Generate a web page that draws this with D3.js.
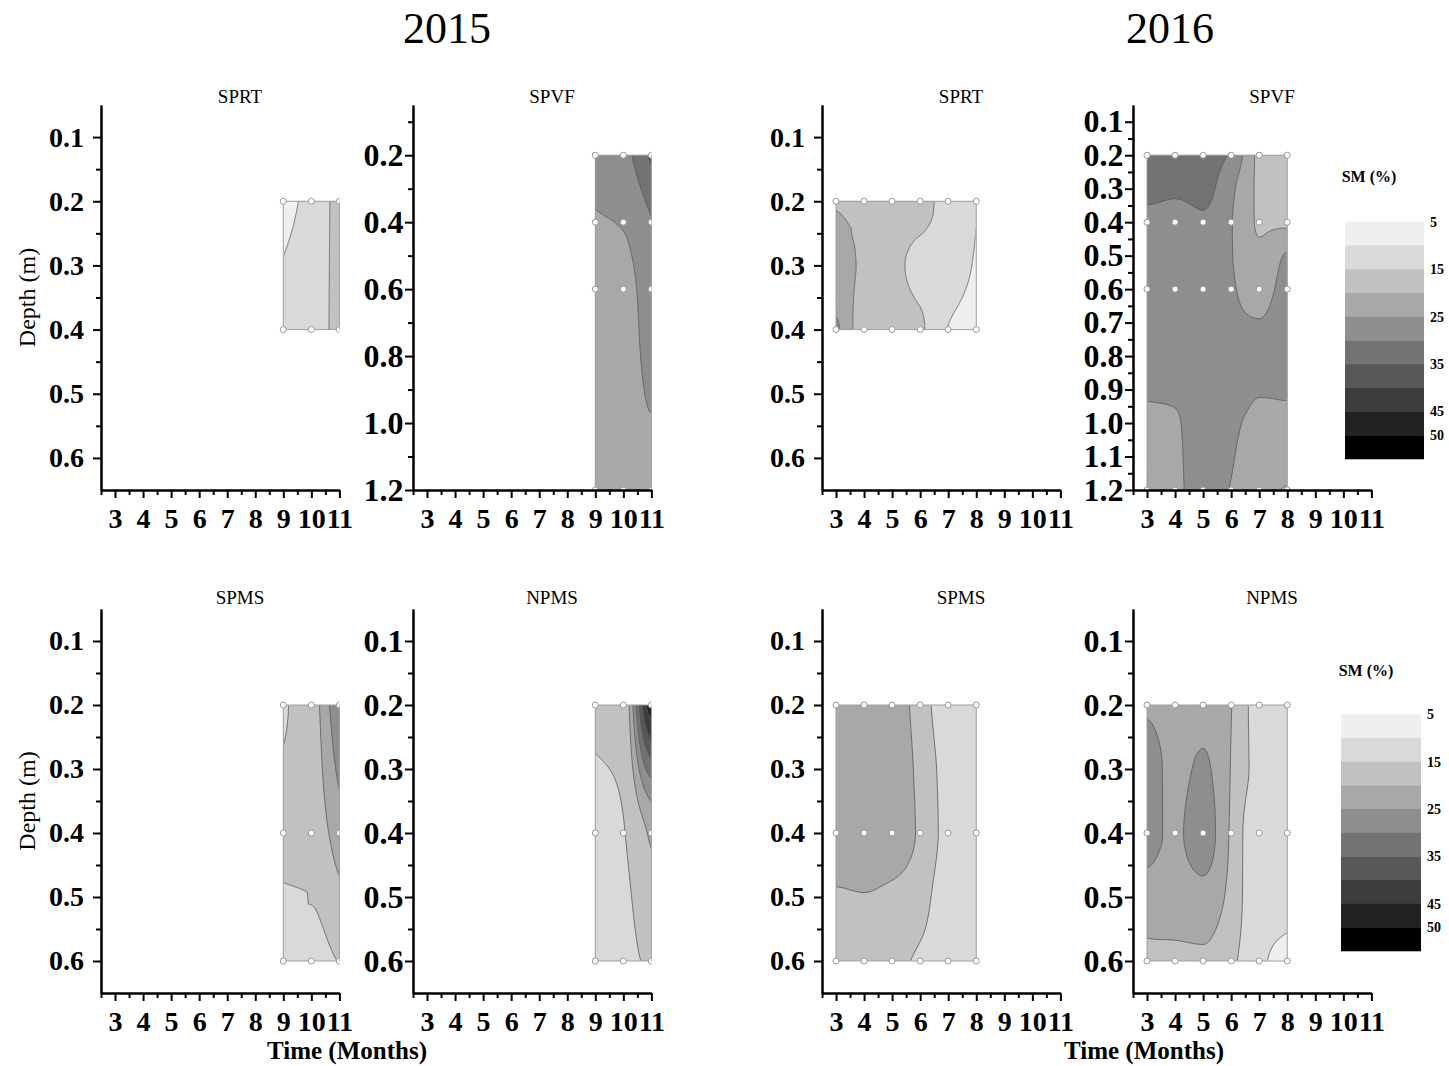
<!DOCTYPE html>
<html>
<head>
<meta charset="utf-8">
<script src="https://cdn.jsdelivr.net/npm/d3@7"></script>
<style>
  body { margin: 0; background: #fff; }
  svg { display: block; }
</style>
</head>
<body>
<svg id="chart" width="1449" height="1066"></svg>
<script>
// ---- sampling months ----
const months2015 = [9, 10, 11];
const months2016 = [3, 4, 5, 6, 7, 8];

// ---- depths (m) of the moisture grids and of the sampling points ----
const depthsTwoRows = [0.2, 0.4];
const depthsThreeRows = [0.2, 0.4, 0.6];
const depthsDeep2015 = [0.2, 0.4, 0.6, 0.8, 1.0, 1.2];
const depthsShallow2016 = [0.2, 0.3, 0.4];
const depthsMid2016 = [0.2, 0.3, 0.4, 0.5, 0.6];
const depthsDeep2016 = [0.2, 0.3, 0.4, 0.5, 0.6, 0.7, 0.8, 0.9, 1.0, 1.1, 1.2];
const probeDepthsDeep = [0.2, 0.4, 0.6, 1.2];

// ---- soil moisture SM (%) : one row per depth, one column per month ----
const smSPRT2015 = [
  [8.5, 11.5, 17],
  [12, 12.5, 17]
];
const smSPVF2015 = [
  [27, 28.5, 36],
  [24.6, 25.3, 29.7],
  [23, 23.5, 27.5],
  [23, 23, 26],
  [22.5, 22.5, 24.8],
  [22, 22, 23]
];
const smSPMS2015 = [
  [14.5, 17.5, 30],
  [16.5, 17, 22.5],
  [12, 12.8, 15.2]
];
const smNPMS2015 = [
  [16.5, 16.5, 48],
  [13, 14.8, 21],
  [12, 13.5, 16]
];
const smSPRT2016 = [
  [19.5, 19, 18, 16.8, 13, 10.3],
  [23, 19, 16.5, 13.5, 12.5, 9.5],
  [25.5, 17, 17, 15.6, 9.8, 7]
];
const smSPVF2016 = [
  [33, 33.5, 33, 29.2, 19, 17],
  [31.5, 31, 31.5, 26, 19.3, 18],
  [28.5, 28, 29.2, 25.2, 19.6, 19.3],
  [27.5, 27.5, 27.5, 25.2, 20.8, 25.3],
  [27.5, 27.5, 27.5, 25.5, 23, 26.5],
  [27.5, 27.5, 27.5, 26, 25.2, 27],
  [27, 27.5, 27.5, 27.5, 26.5, 27],
  [25.6, 25.8, 27.5, 27.5, 25.4, 25.5],
  [24, 24.6, 27, 26, 23.5, 24],
  [23.5, 24.4, 26.5, 25.3, 22.5, 22.5],
  [23.2, 24.4, 26, 24.85, 21.5, 19.5]
];
const smSPMS2016 = [
  [23, 23, 22, 18.15, 11, 11],
  [23.5, 23.5, 22.5, 18.9, 12.9, 11.5],
  [22.5, 23, 22.5, 19.3, 13.2, 11.5],
  [19.6, 19.8, 19, 17, 12, 11.5],
  [18, 17.5, 16.5, 14.1, 12, 11]
];
const smNPMS2016 = [
  [24.7, 23, 23, 20.1, 13, 13],
  [27, 23.5, 25.8, 19.8, 13.5, 13],
  [26, 24.3, 27.5, 19.3, 11, 12.5],
  [23.7, 22.5, 23.3, 18.5, 11, 11.5],
  [17.6, 18.65, 18.84, 16, 10.8, 8.5]
];

// ---- contour levels, fills and tick values ----
const smLevels = [5, 10, 15, 20, 25, 30, 35, 40, 45, 50];
const smFills = ['#efefef', '#d9d9d9', '#c1c1c1', '#a8a8a8', '#8e8e8e',
                 '#737373', '#585858', '#3d3d3d', '#222222', '#000000'];
const legendTicks = [5, 15, 25, 35, 45, 50];
const monthTicks = [3, 4, 5, 6, 7, 8, 9, 10, 11];
const monthMinorTicks = [2.5, 3.5, 4.5, 5.5, 6.5, 7.5, 8.5, 9.5, 10.5];
const depthTicksShallow = [0.1, 0.2, 0.3, 0.4, 0.5, 0.6];
const depthMinorShallow = [0.15, 0.25, 0.35, 0.45, 0.55];
const depthTicksEven = [0.2, 0.4, 0.6, 0.8, 1.0, 1.2];
const depthMinorEven = [0.1, 0.3, 0.5, 0.7, 0.9, 1.1];
const depthTicksAll = [0.1, 0.2, 0.3, 0.4, 0.5, 0.6, 0.7, 0.8, 0.9, 1.0, 1.1, 1.2];
const depthMinorAll = [0.15, 0.25, 0.35, 0.45, 0.55, 0.65, 0.75, 0.85, 0.95, 1.05, 1.15];

const panels = [
  { title: 'SPRT', row: 0, col: 0, months: months2015, depths: depthsTwoRows, sm: smSPRT2015, probes: depthsTwoRows, maxDepth: 0.65, ticks: depthTicksShallow, minor: depthMinorShallow },
  { title: 'SPVF', row: 0, col: 1, months: months2015, depths: depthsDeep2015, sm: smSPVF2015, probes: probeDepthsDeep, maxDepth: 1.2, ticks: depthTicksEven, minor: depthMinorEven },
  { title: 'SPRT', row: 0, col: 2, months: months2016, depths: depthsShallow2016, sm: smSPRT2016, probes: depthsTwoRows, maxDepth: 0.65, ticks: depthTicksShallow, minor: depthMinorShallow },
  { title: 'SPVF', row: 0, col: 3, months: months2016, depths: depthsDeep2016, sm: smSPVF2016, probes: probeDepthsDeep, maxDepth: 1.2, ticks: depthTicksAll, minor: depthMinorAll },
  { title: 'SPMS', row: 1, col: 0, months: months2015, depths: depthsThreeRows, sm: smSPMS2015, probes: depthsThreeRows, maxDepth: 0.65, ticks: depthTicksShallow, minor: depthMinorShallow },
  { title: 'NPMS', row: 1, col: 1, months: months2015, depths: depthsThreeRows, sm: smNPMS2015, probes: depthsThreeRows, maxDepth: 0.65, ticks: depthTicksShallow, minor: depthMinorShallow },
  { title: 'SPMS', row: 1, col: 2, months: months2016, depths: depthsMid2016, sm: smSPMS2016, probes: depthsThreeRows, maxDepth: 0.65, ticks: depthTicksShallow, minor: depthMinorShallow },
  { title: 'NPMS', row: 1, col: 3, months: months2016, depths: depthsMid2016, sm: smNPMS2016, probes: depthsThreeRows, maxDepth: 0.65, ticks: depthTicksShallow, minor: depthMinorShallow }
];

// ---- layout ----
const FONT = '"Liberation Serif", "Times New Roman", serif';
const axisLeft = [101, 413, 822, 1133];
const rowTop = [105, 609];
const rowBottom = [490, 993];
const axisWidth = 238.4;
const titleBaseline = [103, 604];

const svg = d3.select('#chart');
const defs = svg.append('defs');

// monotone cubic interpolation through (xs, ys)
function monotone(xs, ys) {
  const n = xs.length;
  if (n === 1) return () => ys[0];
  const h = [], d = [];
  for (let i = 0; i < n - 1; i++) {
    h[i] = xs[i + 1] - xs[i];
    d[i] = (ys[i + 1] - ys[i]) / h[i];
  }
  const m = new Array(n);
  m[0] = d[0];
  m[n - 1] = d[n - 2];
  for (let i = 1; i < n - 1; i++) {
    if (d[i - 1] * d[i] <= 0) m[i] = 0;
    else {
      const w1 = 2 * h[i] + h[i - 1], w2 = h[i] + 2 * h[i - 1];
      m[i] = (w1 + w2) / (w1 / d[i - 1] + w2 / d[i]);
    }
  }
  if (n > 2) {
    if (d[0] * m[1] <= 0) m[0] = 0;
    if (d[n - 2] * m[n - 2] <= 0) m[n - 1] = 0;
  }
  return x => {
    let i = 0;
    while (i < n - 2 && x > xs[i + 1]) i++;
    const t = (x - xs[i]) / h[i], t2 = t * t, t3 = t2 * t;
    return (2 * t3 - 3 * t2 + 1) * ys[i] + (t3 - 2 * t2 + t) * h[i] * m[i]
         + (-2 * t3 + 3 * t2) * ys[i + 1] + (t3 - t2) * h[i] * m[i + 1];
  };
}

function styleAxis(sel, fontSize) {
  sel.attr('font-family', FONT).attr('font-size', fontSize).attr('font-weight', 'bold');
  sel.select('.domain').attr('stroke', '#000').attr('stroke-width', 2);
  sel.selectAll('.tick line').attr('stroke', '#000').attr('stroke-width', 2);
  sel.selectAll('.tick text').attr('fill', '#000');
}

panels.forEach((p, k) => {
  const ax = axisLeft[p.col];
  const top = rowTop[p.row], bottom = rowBottom[p.row];
  const x = d3.scaleLinear().domain([2.5, 11]).range([ax, ax + axisWidth]);
  const y = d3.scaleLinear().domain([0.05, p.maxDepth]).range([top, bottom]);
  const g = svg.append('g');

  const m0 = p.months[0], m1 = p.months[p.months.length - 1];
  const d0 = p.depths[0], d1 = p.depths[p.depths.length - 1];
  const rx0 = x(m0), rx1 = x(m1), ry0 = y(d0), ry1 = y(d1);

  defs.append('clipPath').attr('id', 'frame' + k).append('rect')
    .attr('x', ax).attr('y', top).attr('width', x(11) - ax).attr('height', bottom - top);
  defs.append('clipPath').attr('id', 'field' + k).append('rect')
    .attr('x', rx0).attr('y', ry0).attr('width', rx1 - rx0).attr('height', ry1 - ry0);
  defs.append('clipPath').attr('id', 'inner' + k).append('rect')
    .attr('x', rx0 + 0.6).attr('y', ry0 + 0.6).attr('width', rx1 - rx0 - 1.2).attr('height', ry1 - ry0 - 1.2);

  // dense field for contouring
  const nx = Math.max(2, Math.round(rx1 - rx0) + 1);
  const ny = Math.max(2, Math.round(ry1 - ry0) + 1);
  const dx = (m1 - m0) / (nx - 1), dy = (d1 - d0) / (ny - 1);
  const rowFns = p.sm.map(row => monotone(p.months, row));
  const values = new Float64Array(nx * ny);
  for (let i = 0; i < nx; i++) {
    const mx = m0 + i * dx;
    const col = rowFns.map(f => f(mx));
    const fd = monotone(p.depths, col);
    for (let j = 0; j < ny; j++) values[j * nx + i] = fd(d0 + j * dy);
  }
  const bands = d3.contours().size([nx, ny]).thresholds(smLevels)(values);
  const path = d3.geoPath(d3.geoTransform({
    point(gx, gy) { this.stream.point(x(m0 + (gx - 0.5) * dx), y(d0 + (gy - 0.5) * dy)); }
  }));

  g.append('g').attr('clip-path', `url(#field${k})`)
    .selectAll('path').data(bands).join('path')
    .attr('d', path)
    .attr('fill', d => smFills[smLevels.indexOf(d.value)])
    .attr('stroke', 'none');

  g.append('g').attr('clip-path', `url(#inner${k})`)
    .selectAll('path').data(bands).join('path')
    .attr('d', path)
    .attr('fill', 'none')
    .attr('stroke', '#5a5a5a')
    .attr('stroke-width', 0.8);

  g.append('rect')
    .attr('x', rx0).attr('y', ry0).attr('width', rx1 - rx0).attr('height', ry1 - ry0)
    .attr('fill', 'none').attr('stroke', '#a0a0a0').attr('stroke-width', 1);

  // sampling points
  const probes = [];
  p.probes.forEach(dp => p.months.forEach(mo => probes.push([mo, dp])));
  g.append('g').attr('clip-path', `url(#frame${k})`)
    .selectAll('circle').data(probes).join('circle')
    .attr('cx', d => x(d[0])).attr('cy', d => y(d[1])).attr('r', 3)
    .attr('fill', '#fff').attr('stroke', '#999').attr('stroke-width', 1);

  // axes
  const wide = p.col % 2 === 1;
  const yFont = wide ? 32 : 28;
  const yPad = wide ? 1.5 : 9;

  g.append('g').attr('transform', `translate(0,${bottom})`)
    .call(d3.axisBottom(x).tickValues(monthMinorTicks).tickSize(5).tickSizeOuter(0).tickFormat(''))
    .call(s => styleAxis(s, 28));
  g.append('g').attr('transform', `translate(0,${bottom})`)
    .call(d3.axisBottom(x).tickValues(monthTicks).tickSize(8).tickSizeOuter(0).tickPadding(10).tickFormat(d3.format('d')))
    .call(s => styleAxis(s, 28));

  g.append('g').attr('transform', `translate(${ax},0)`)
    .call(d3.axisLeft(y).tickValues(p.minor).tickSize(5).tickSizeOuter(0).tickFormat(''))
    .call(s => styleAxis(s, yFont));
  g.append('g').attr('transform', `translate(${ax},0)`)
    .call(d3.axisLeft(y).tickValues(p.ticks).tickSize(8).tickSizeOuter(0).tickPadding(yPad).tickFormat(d3.format('.1f')))
    .call(s => styleAxis(s, yFont));

  g.append('text')
    .attr('x', ax + 139).attr('y', titleBaseline[p.row])
    .attr('text-anchor', 'middle')
    .attr('font-family', FONT).attr('font-size', 19)
    .text(p.title);

  if (p.col === 0) {
    g.append('text')
      .attr('transform', `translate(27,${(top + bottom) / 2}) rotate(-90)`)
      .attr('text-anchor', 'middle').attr('dy', '0.35em')
      .attr('font-family', FONT).attr('font-size', 24)
      .text('Depth (m)');
  }
});

// year headings and time axis captions
[['2015', 447], ['2016', 1170]].forEach(([t, cx]) => {
  svg.append('text').attr('x', cx).attr('y', 43).attr('text-anchor', 'middle')
    .attr('font-family', FONT).attr('font-size', 44).text(t);
});
[347, 1144].forEach(cx => {
  svg.append('text').attr('x', cx).attr('y', 1059).attr('text-anchor', 'middle')
    .attr('font-family', FONT).attr('font-size', 25).attr('font-weight', 'bold')
    .text('Time (Months)');
});

// colour keys
const legends = [
  { x: 1345, y: 221.7, w: 79, h: 237.3, titleX: 1369, titleY: 182 },
  { x: 1341, y: 714.3, w: 80, h: 236.7, titleX: 1366, titleY: 676 }
];
legends.forEach(L => {
  const ly = d3.scaleLinear().domain([5, 55]).range([L.y, L.y + L.h]);
  const lg = svg.append('g');
  lg.selectAll('rect').data(smLevels).join('rect')
    .attr('x', L.x).attr('y', d => ly(d))
    .attr('width', L.w).attr('height', d => ly(d + 5) - ly(d) + 0.3)
    .attr('fill', (d, i) => smFills[i]);
  lg.selectAll('text.lab').data(legendTicks).join('text').attr('class', 'lab')
    .attr('x', L.x + L.w + 6).attr('y', d => ly(d)).attr('dy', '0.35em')
    .attr('font-family', FONT).attr('font-size', 14).attr('font-weight', 'bold')
    .text(d => d);
  lg.append('text').attr('x', L.titleX).attr('y', L.titleY).attr('text-anchor', 'middle')
    .attr('font-family', FONT).attr('font-size', 16).attr('font-weight', 'bold')
    .text('SM (%)');
});
</script>
</body>
</html>
